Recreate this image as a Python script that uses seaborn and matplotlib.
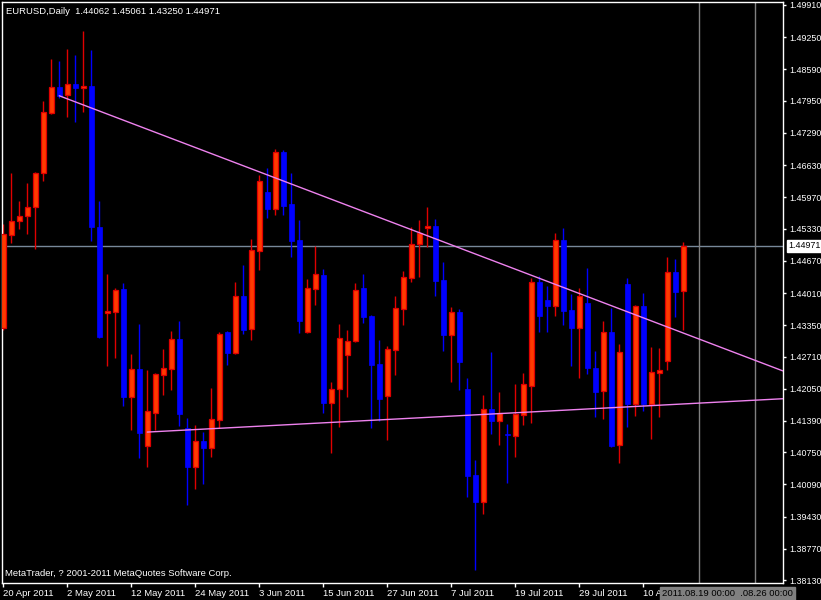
import numpy as np
import pandas as pd
import matplotlib
matplotlib.use("Agg")
import matplotlib.pyplot as plt
import seaborn as sns

# ----------------------------------------
# DATA - EURUSD daily candles
# ----------------------------------------
opens = [1.4330, 1.4520, 1.4549, 1.4559, 1.4577, 1.4647, 1.4770, 1.4823, 1.4807, 1.4829,
         1.4821, 1.4825, 1.4536, 1.4360, 1.4362, 1.4409, 1.4188, 1.4246, 1.4088, 1.4155,
         1.4233, 1.4246, 1.4307, 1.4125, 1.4045, 1.4098, 1.4084, 1.4141, 1.4321, 1.4278,
         1.4395, 1.4327, 1.4487, 1.4608, 1.4573, 1.4690, 1.4583, 1.4510, 1.4321, 1.4409,
         1.4438, 1.4176, 1.4205, 1.4274, 1.4303, 1.4411, 1.4354, 1.4256, 1.4190, 1.4284,
         1.4368, 1.4432, 1.4502, 1.4535, 1.4538, 1.4428, 1.4315, 1.4362, 1.4205, 1.4028,
         1.3973, 1.4164, 1.4139, 1.4112, 1.4108, 1.4151, 1.4211, 1.4424, 1.4387, 1.4375,
         1.4510, 1.4366, 1.4330, 1.4381, 1.4248, 1.4200, 1.4321, 1.4090, 1.4420, 1.4174,
         1.4375, 1.4174, 1.4237, 1.4262, 1.4444, 1.44062]
highs = [1.4542, 1.4647, 1.4590, 1.4626, 1.4649, 1.4794, 1.4880, 1.4876, 1.4901, 1.4889,
         1.4938, 1.4899, 1.4590, 1.4440, 1.4411, 1.4422, 1.4276, 1.4338, 1.4243, 1.4237,
         1.4286, 1.4323, 1.4344, 1.4145, 1.4131, 1.4117, 1.4207, 1.4321, 1.4323, 1.4424,
         1.4459, 1.4512, 1.4643, 1.4657, 1.4696, 1.4694, 1.4647, 1.4551, 1.4430, 1.4497,
         1.4450, 1.4219, 1.4338, 1.4325, 1.4422, 1.4440, 1.4356, 1.4305, 1.4293, 1.4395,
         1.4446, 1.4536, 1.4551, 1.4577, 1.4553, 1.4465, 1.4373, 1.4368, 1.4227, 1.4059,
         1.4192, 1.4280, 1.4198, 1.4133, 1.4215, 1.4237, 1.4432, 1.4436, 1.4416, 1.4524,
         1.4534, 1.4399, 1.4411, 1.4452, 1.4282, 1.4344, 1.4370, 1.4297, 1.4432, 1.4377,
         1.4401, 1.4291, 1.4289, 1.4475, 1.4471, 1.45061]
lows = [1.4325, 1.4504, 1.4532, 1.4522, 1.4491, 1.4631, 1.4768, 1.4801, 1.4762, 1.4751,
        1.4772, 1.4508, 1.4309, 1.4252, 1.4268, 1.4170, 1.4121, 1.4063, 1.4045, 1.4121,
        1.4192, 1.4203, 1.4129, 1.3967, 1.4000, 1.4010, 1.4065, 1.4125, 1.4254, 1.4276,
        1.4317, 1.4305, 1.4448, 1.4555, 1.4561, 1.4561, 1.4475, 1.4319, 1.4319, 1.4377,
        1.4155, 1.4074, 1.4127, 1.4188, 1.4301, 1.4340, 1.4125, 1.4139, 1.4100, 1.4233,
        1.4336, 1.4424, 1.4434, 1.4495, 1.4395, 1.4282, 1.4219, 1.4203, 1.3983, 1.3834,
        1.3949, 1.4112, 1.4090, 1.4012, 1.4065, 1.4131, 1.4135, 1.4321, 1.4321, 1.4354,
        1.4336, 1.4252, 1.4227, 1.4235, 1.4147, 1.4143, 1.4086, 1.4053, 1.4127, 1.4149,
        1.4160, 1.4102, 1.4147, 1.4243, 1.4352, 1.43250]
closes = [1.4522, 1.4549, 1.4559, 1.4577, 1.4647, 1.4772, 1.4823, 1.4805, 1.4829, 1.4821,
          1.4825, 1.4536, 1.4311, 1.4364, 1.4407, 1.4188, 1.4246, 1.4114, 1.4160, 1.4235,
          1.4248, 1.4307, 1.4153, 1.4045, 1.4098, 1.4084, 1.4143, 1.4317, 1.4278, 1.4395,
          1.4325, 1.4489, 1.4631, 1.4573, 1.4690, 1.4579, 1.4508, 1.4344, 1.4411, 1.4440,
          1.4176, 1.4205, 1.4309, 1.4303, 1.4407, 1.4352, 1.4254, 1.4184, 1.4286, 1.4370,
          1.4434, 1.4502, 1.4524, 1.4538, 1.4426, 1.4315, 1.4362, 1.4260, 1.4026, 1.3973,
          1.4164, 1.4139, 1.4155, 1.4110, 1.4153, 1.4215, 1.4424, 1.4354, 1.4375, 1.4510,
          1.4364, 1.4330, 1.4395, 1.4248, 1.4198, 1.4321, 1.4088, 1.4280, 1.4174, 1.4375,
          1.4174, 1.4239, 1.4243, 1.4444, 1.4403, 1.44971]

dates = pd.bdate_range("2011-04-20", periods=len(opens))

# price scale labels on the right
price_ticks = [1.49910, 1.49250, 1.48590, 1.47950, 1.47290, 1.46630, 1.45970, 1.45330,
               1.44670, 1.44010, 1.43350, 1.42710, 1.42050, 1.41390, 1.40750, 1.40090,
               1.39430, 1.38770, 1.38130]

# trend lines: two anchor points each (bar index, price)
resistance = [(7, 1.4805), (68, 1.4425)]
support = [(18, 1.41163), (85, 1.41739)]

bid = 1.44971
future_lines = [87, 94]   # 2011.08.19 and 2011.08.26
future_text = "2011.08.19 00:00  .08.26 00:00"

# ----------------------------------------
# STYLE
# ----------------------------------------
sns.set_theme(style="dark", rc={"axes.facecolor": "black", "figure.facecolor": "black"})
plt.rcParams['font.family'] = ['Liberation Sans', 'DejaVu Sans']

BULL = "#FF3A00"
BULL_EDGE = "#E00000"
BEAR = "#0000FF"

df = pd.DataFrame({"date": dates, "open": opens, "high": highs, "low": lows, "close": closes})
df["x"] = np.arange(len(df))
df["up"] = df["close"] >= df["open"]

W, H = 821, 600
fig = plt.figure(figsize=(W / 100, H / 100), dpi=100)
ax = fig.add_axes([2 / W, 17 / H, 781 / W, 581 / H])
ax.set_facecolor("black")

x_right = 97.46

# bid line
ax.axhline(bid, color="#778899", lw=1, zorder=1)

# future vertical lines
for v in future_lines:
    ax.axvline(v, color="#808080", lw=1, zorder=1)

# wicks
wick_colors = np.where(df["up"], BULL_EDGE, BEAR)
ax.vlines(df["x"], df["low"], df["high"], colors=wick_colors, lw=1, zorder=2)

# bodies
body_lo = df[["open", "close"]].min(axis=1)
body_h = (df["close"] - df["open"]).abs().clip(lower=0.00025)
up = df["up"]
ax.bar(df["x"][up], body_h[up], bottom=body_lo[up], width=0.55,
       color=BULL, edgecolor=BULL_EDGE, linewidth=0.9, zorder=3)
ax.bar(df["x"][~up], body_h[~up], bottom=body_lo[~up], width=0.62,
       color=BEAR, edgecolor=BEAR, linewidth=0.5, zorder=3)

# trend lines (extended to the right edge)
for (x0, p0), (x1, p1) in [resistance, support]:
    slope = (p1 - p0) / (x1 - x0)
    tl = pd.DataFrame({"x": [x0, x_right], "y": [p0, p0 + slope * (x_right - x0)]})
    sns.lineplot(data=tl, x="x", y="y", ax=ax, color="#EE82EE", lw=1, zorder=4)

# ----------------------------------------
# AXES
# ----------------------------------------
ax.set_xlim(-0.1625, x_right)
ax.set_ylim(1.38072, 1.49971)
ax.set_xlabel("")
ax.set_ylabel("")

tick_idx = list(range(0, len(df), 8))
ax.set_xticks(tick_idx)
ax.set_xticklabels([f"{d.day} {d.strftime('%b %Y')}" for d in df["date"].iloc[tick_idx]],
                   ha="left")
ax.set_yticks(price_ticks)
ax.set_yticklabels([f"{p:.5f}" for p in price_ticks])
ax.yaxis.tick_right()

ax.tick_params(axis="x", colors="white", labelcolor="white", length=3, width=1,
               direction="out", pad=1, labelsize=6.8, bottom=True)
ax.tick_params(axis="y", colors="white", labelcolor="white", length=2.5, width=1,
               direction="out", pad=2, labelsize=6.4, right=True, left=False)
for s in ax.spines.values():
    s.set_color("white")
    s.set_linewidth(1)
ax.grid(False)

# ----------------------------------------
# TEXTS
# ----------------------------------------
fig.text(6 / W, 1 - 11 / H, "EURUSD,Daily  1.44062 1.45061 1.43250 1.44971",
         color="white", fontsize=6.8, va="center", ha="left")
fig.text(5 / W, 1 - 574 / H, "MetaTrader, ? 2001-2011 MetaQuotes Software Corp.",
         color="white", fontsize=6.8, va="center", ha="left")
fig.text(788 / W, 1 - 246 / H, f"{bid:.5f}", color="black", fontsize=6.4,
         va="center", ha="left",
         bbox=dict(boxstyle="square,pad=0.15", facecolor="white", edgecolor="white"))
fig.text(662 / W, 1 - 593.5 / H, future_text, color="black", fontsize=6.8,
         va="center", ha="left",
         bbox=dict(boxstyle="square,pad=0.25", facecolor="#808080", edgecolor="#808080"))

fig.savefig("out.png", dpi=100, facecolor="black")
